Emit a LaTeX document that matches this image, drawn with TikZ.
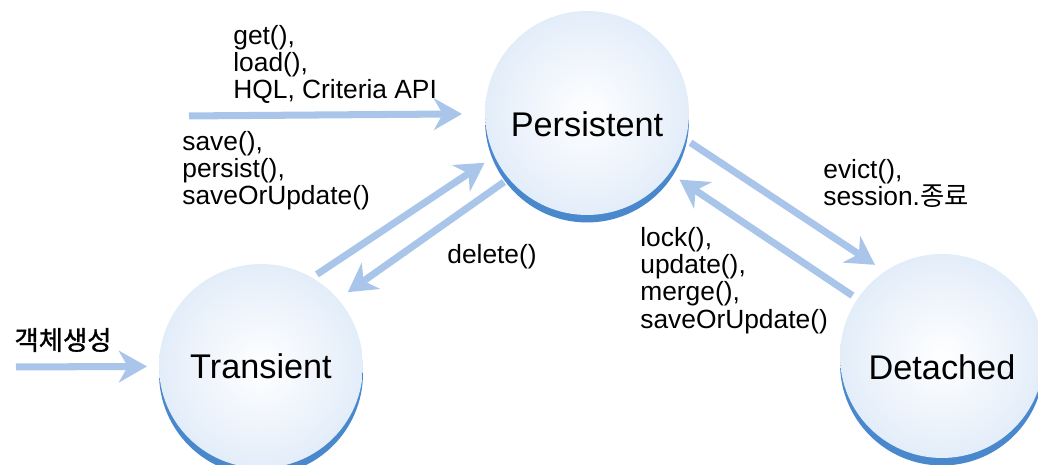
\documentclass[tikz,border=0pt]{standalone}
\usepackage{fontspec}
\setmainfont{Liberation Sans}
\newfontfamily\kofont{Noto Sans CJK KR}
\newfontfamily\kofontb[FakeBold=1.2]{Noto Sans CJK KR}
\usepackage{xcolor}
\usepackage{tikz}
\usetikzlibrary{shadows}
\usetikzlibrary{arrows.meta}
\definecolor{stateshade}{HTML}{4A88CE}
\definecolor{arrowblue}{HTML}{A9C6EA}
\definecolor{ballmid}{HTML}{EBF2FB}
\definecolor{ballrim}{HTML}{D8E7F7}
\definecolor{balledge}{HTML}{BFD7F1}
\pgfdeclareradialshading{stateball}{\pgfpoint{0bp}{0bp}}{color(0bp)=(white); color(18bp)=(ballmid); color(34bp)=(ballrim); color(50bp)=(balledge)}
\tikzstyle{state}=[circle,minimum size=4.08cm,inner sep=0pt,outer sep=0pt,shading=stateball,drop shadow={shadow xshift=0pt,shadow yshift=-0.15cm,fill=stateshade,opacity=1},font=\fontsize{19.5}{22}\selectfont]
\tikzstyle{transition} = [draw,color=arrowblue,line width=4pt,-{Stealth[length=16pt,width=18pt,inset=5pt]},shorten <=0.12cm,shorten >=0.24cm]
\tikzstyle{method} = [align=left,anchor=north west,inner sep=0pt,font=\fontsize{15}{15.5}\selectfont]

\begin{document}
\begin{tikzpicture}[x=0.02cm,y=-0.02cm]
    \useasboundingbox (0,0) rectangle (1038,465);

%states
    \foreach \pos/\name/\txt/\th in {{(587,113)/persistent/Persistent/26.5pt}, {(261,366)/transient/Transient/14pt}, {(942,356)/detached/Detached/26.5pt}}
        \node[state, text height=\th] (\name) at \pos {\txt};
%entry points
    \coordinate (getin) at (183,116);
    \coordinate (newin) at (10,367);

    % transitions between states
    \foreach \source/\dest in {transient.60/persistent.205, persistent.220/transient.41, persistent.345/detached.124, detached.146/persistent.324}
        \path[transition] (\source) -- (\dest);
    \path[transition, shorten >=0.46cm] (getin) -- (persistent);
    \path[transition, shorten >=0.24cm] (newin) -- (transient);

%labels
    \foreach \pos/\name/\txt in {{(233,25)/getlbl/{get(),\\load(),\\HQL, Criteria API}}, {(182,131)/savelbl/{save(),\\persist(),\\saveOrUpdate()}}, {(823,159)/evictlbl/{evict(),\\session.{\kofont 종료}}}, {(640,227)/locklbl/{lock(),\\update(),\\merge(),\\saveOrUpdate()}}, {(447,244)/deletelbl/delete()}}
        \node[method] (\name) at \pos {\txt};
    \node[font=\kofontb\fontsize{15}{15.5}\selectfont] (newlbl) at (63,340) {객체생성};

\end{tikzpicture}
\end{document}
